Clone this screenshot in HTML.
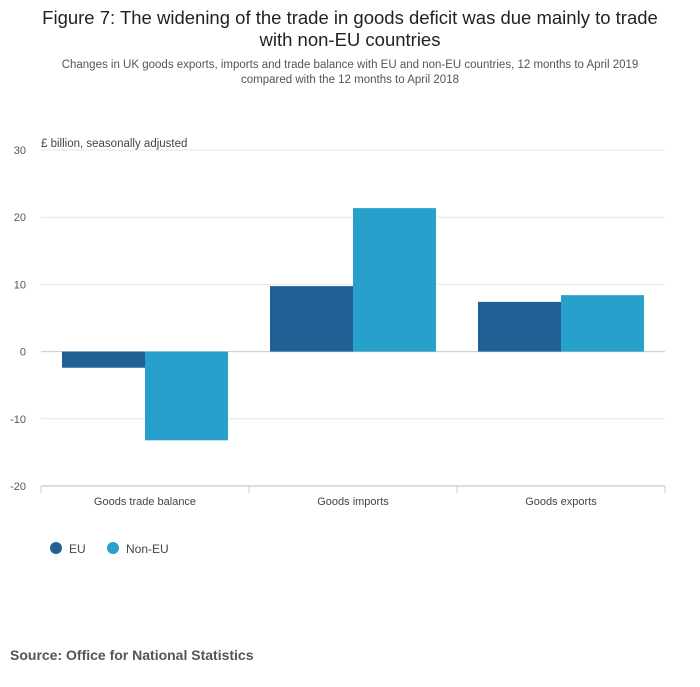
<!DOCTYPE html>
<html><head><meta charset="utf-8"><style>
body{margin:0;background:#fff;font-family:"Liberation Sans",sans-serif;}
svg text{font-family:"Liberation Sans",sans-serif;}
</style></head><body>
<svg id="chart" width="700" height="682">
<text x="350" y="24" font-size="18.5" text-anchor="middle" fill="#222">Figure 7: The widening of the trade in goods deficit was due mainly to trade</text>
<text x="350" y="46" font-size="18.5" text-anchor="middle" fill="#222">with non-EU countries</text>
<text x="350" y="68" font-size="11.5" text-anchor="middle" fill="#555">Changes in UK goods exports, imports and trade balance with EU and non-EU countries, 12 months to April 2019</text>
<text x="350" y="83" font-size="11.5" text-anchor="middle" fill="#555">compared with the 12 months to April 2018</text>
<text x="41" y="147" font-size="11.5" fill="#444">£ billion, seasonally adjusted</text>
<g id="grid"></g><g id="bars"></g><g id="xaxis"></g>
<circle cx="56" cy="548" r="6" fill="#206095"/>
<text x="69" y="553" font-size="12" fill="#444">EU</text>
<circle cx="113" cy="548" r="6" fill="#27a0cc"/>
<text x="126" y="553" font-size="12" fill="#444">Non-EU</text>
<text x="10" y="660" font-size="14" font-weight="bold" fill="#555">Source: Office for National Statistics</text>
</svg>
<script>
const categories=["Goods trade balance","Goods imports","Goods exports"];
const euValues=[-2.4,9.75,7.4];
const nonEuValues=[-13.2,21.35,8.4];
const yTicks=[30,20,10,0,-10,-20];
const NS="http://www.w3.org/2000/svg";
const L=41,R=665,yMin=-20,yMax=30,plotTop=150,plotBot=486;
const y=v=>plotTop+(yMax-v)/(yMax-yMin)*(plotBot-plotTop);
const bw=(R-L)/categories.length;
const x=i=>L+i*bw;
function mk(t,a,p){const e=document.createElementNS(NS,t);for(const k in a)e.setAttribute(k,a[k]);p.appendChild(e);return e;}
const grid=document.getElementById('grid'),bars=document.getElementById('bars'),xa=document.getElementById('xaxis');
yTicks.forEach(v=>{
 const l=mk('line',{x1:L,x2:R,y1:y(v),y2:y(v),stroke:v===0?'#ccc':'#e4e4e4'},grid);
 
 
 const t=mk('text',{x:26,y:y(v)+4,'font-size':11,'text-anchor':'end',fill:'#555'},grid);t.textContent=v;
 
 
});
mk('line',{x1:L,x2:R,y1:plotBot,y2:plotBot,stroke:'#bbb'},xa);
categories.forEach((c,i)=>{
 const pad=21,w=(bw-2*pad)/2;
 [[euValues[i],'#206095'],[nonEuValues[i],'#27a0cc']].forEach((d,j)=>{
  const v=d[0];
  const r=mk('rect',{x:x(i)+pad+j*w,y:Math.min(y(v),y(0)),width:w,height:Math.abs(y(v)-y(0)),fill:d[1]},bars);
  
  
 });
 const t=mk('text',{x:x(i)+bw/2,y:505,'font-size':11,'text-anchor':'middle',fill:'#444'},xa);t.textContent=c;
 
 
 mk('line',{x1:x(i),x2:x(i),y1:plotBot,y2:plotBot+7,stroke:'#ccc'},xa);
});
mk('line',{x1:R,x2:R,y1:plotBot,y2:plotBot+7,stroke:'#ccc'},xa);
</script>
</body></html>
